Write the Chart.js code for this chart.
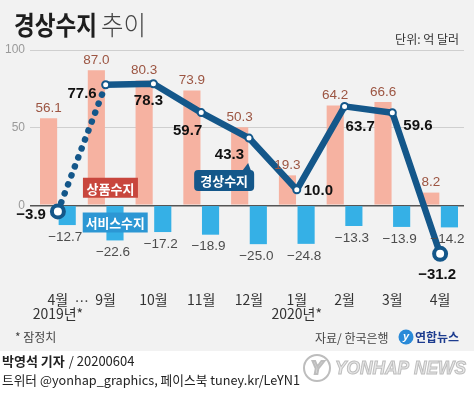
<!DOCTYPE html>
<html>
<head>
<meta charset="utf-8">
<script src="https://cdn.jsdelivr.net/npm/chart.js@4.4.1/dist/chart.umd.min.js"></script>
<style>
  html, body { margin: 0; padding: 0; background: #fff; }
  canvas { display: block; }
</style>
</head>
<body>
<canvas id="chart" width="474" height="399"></canvas>
<script>
// data (억 달러)
const months = [["4월", "2019년*"], "9월", "10월", "11월", "12월", ["1월", "2020년*"], "2월", "3월", "4월"];
const goods = [56.1, 87.0, 80.3, 73.9, 50.3, 19.3, 64.2, 66.6, 8.2];
const services = [-12.7, -22.6, -17.2, -18.9, -25.0, -24.8, -13.3, -13.9, -14.2];
const current = [-3.9, 77.6, 78.3, 59.7, 43.3, 10.0, 63.7, 59.6, -31.2];
const yTicks = [0, 50, 100];

const KR = '"Noto Sans CJK KR", sans-serif';
const NUM = '"Liberation Sans", Arial, sans-serif';
const navy = "#14578a";

// offsets of the 경상수지 value labels from their points: dx, dy, align
const lineLabelPos = [
    [-12, 3, "right"], [-9, 9, "right"], [-5, 17, "center"], [1, 18, "right"], [-5, 17, "right"],
    [7, 1, "left"], [1, 20, "left"], [11, 13, "left"], [-3, 21, "center"]
];

const fmt = v => (v < 0 ? "\u2212" + Math.abs(v).toFixed(1) : v.toFixed(1));

// page background, titles, footer
const frame = {
    id: "frame",
    beforeDraw(chart) {
        const c = chart.ctx;
        c.save();
        c.fillStyle = "#fff";
        c.fillRect(0, 0, 474, 399);
        c.fillStyle = "#f2f2f2";
        c.fillRect(0, 0, 474, 351);
        c.restore();
    },
    afterDraw(chart) {
        const c = chart.ctx;
        const x = chart.scales.x;
        c.save();
        c.textBaseline = "middle";

        // title
        c.fillStyle = "#1e1e1e";
        c.font = "bold 26px " + KR;
        c.fillText("경상수지", 14, 25, 83);
        c.fillStyle = "#444";
        c.font = "300 26px " + KR;
        c.fillText("추이", 101, 25, 45);

        c.fillStyle = "#333";
        c.font = "12px " + KR;
        c.textAlign = "right";
        c.fillText("단위: 억 달러", 459, 39);

        // gap marker between 4월 and 9월
        c.textAlign = "center";
        c.font = "14px " + KR;
        c.fillText("\u2026", x.getPixelForValue(0.5), 301);

        // footnote and source
        c.textAlign = "left";
        c.fillStyle = "#444";
        c.font = "12px " + KR;
        c.fillText("* 잠정치", 15, 337);
        c.fillText("자료/ 한국은행", 315, 338);

        // 연합뉴스 logo
        c.fillStyle = "#2a8ad8";
        c.beginPath();
        c.arc(406, 337, 7.5, 0, Math.PI * 2);
        c.fill();
        c.fillStyle = "#fff";
        c.font = "italic bold 11px " + NUM;
        c.textAlign = "center";
        c.fillText("y", 406, 337);
        c.textAlign = "left";
        c.fillStyle = "#1d3c8f";
        c.font = "bold 12px " + KR;
        c.fillText("연합뉴스", 415, 337);

        // footer
        c.fillStyle = "#222";
        c.font = "bold 13px " + KR;
        c.fillText("박영석 기자", 2, 361);
        const bw = c.measureText("박영석 기자").width;
        c.font = "13px " + KR;
        c.fillText("/ 20200604", 2 + bw + 4, 361);
        c.fillText("트위터 @yonhap_graphics, 페이스북 tuney.kr/LeYN1", 2, 380, 298);

        // watermark
        c.strokeStyle = "#bdbdbd";
        c.lineWidth = 2;
        c.beginPath();
        c.arc(317, 368, 13, 0, Math.PI * 2);
        c.stroke();
        c.font = "italic bold 18px " + NUM;
        c.textAlign = "center";
        c.fillStyle = "#e8e8e8";
        c.fillText("Y", 317, 369);
        c.strokeText("Y", 317, 369);
        c.textAlign = "left";
        c.lineWidth = 1;
        c.fillText("YONHAP NEWS", 335, 369, 131);
        c.strokeText("YONHAP NEWS", 335, 369, 131);
        c.restore();
    }
};

// value labels and series tags
const labels = {
    id: "labels",
    afterDatasetsDraw(chart) {
        const c = chart.ctx;
        const xs = chart.scales.x, ys = chart.scales.y;
        c.save();
        c.textBaseline = "middle";

        // series tags
        const tags = [
            { text: "상품수지", i: 1.1, v: 11.3, w: 55, h: 20, color: "#c8463d", r: 0 },
            { text: "서비스수지", i: 1.2, v: -11, w: 65, h: 20, color: "#2c97d4", r: 0 },
            { text: "경상수지", i: 3.48, v: 16, w: 60, h: 21, color: navy, r: 4 }
        ];
        tags.forEach(t => {
            const cx = xs.getPixelForValue(t.i), cy = ys.getPixelForValue(t.v);
            c.fillStyle = t.color;
            c.beginPath();
            c.roundRect(cx - t.w / 2, cy - t.h / 2, t.w, t.h, t.r);
            c.fill();
            if (t.r) {
                // little pointer toward the line
                c.beginPath();
                c.moveTo(cx + t.w / 2 - 12, cy - t.h / 2 + 1);
                c.lineTo(cx + t.w / 2 - 6, cy - t.h / 2 - 7);
                c.lineTo(cx + t.w / 2 - 3, cy - t.h / 2 + 1);
                c.fill();
            }
            c.fillStyle = "#fff";
            c.font = "bold 13px " + KR;
            c.textAlign = "center";
            c.fillText(t.text, cx, cy + 1, t.w - 6);
        });

        const goodsMeta = chart.getDatasetMeta(1);
        const servMeta = chart.getDatasetMeta(2);
        const lineMeta = chart.getDatasetMeta(0);

        c.font = "13.5px " + NUM;
        c.textAlign = "center";
        c.fillStyle = "#9c5542";
        goodsMeta.data.forEach((b, i) => c.fillText(fmt(goods[i]), b.x, b.y - 10));
        c.fillStyle = "#4d4d4d";
        servMeta.data.forEach((b, i) => c.fillText(fmt(services[i]), b.x - 2, b.y + 12));

        c.font = "bold 15px " + NUM;
        c.fillStyle = "#111";
        lineMeta.data.forEach((p, i) => {
            const [dx, dy, al] = lineLabelPos[i];
            c.textAlign = al;
            c.fillText(fmt(current[i]), p.x + dx, p.y + dy);
        });
        c.restore();
    }
};

const ctx = document.getElementById("chart").getContext("2d");

new Chart(ctx, {
    type: "bar",
    data: {
        labels: months,
        datasets: [
            {
                type: "line",
                label: "경상수지",
                data: current,
                order: 0,
                borderColor: navy,
                borderWidth: 6.5,
                borderJoinStyle: "round",
                borderCapStyle: "round",
                tension: 0,
                pointRadius: c => (c.dataIndex === 0 || c.dataIndex === current.length - 1 ? 6 : 3.5),
                pointBorderWidth: c => (c.dataIndex === 0 || c.dataIndex === current.length - 1 ? 4 : 2),
                pointBackgroundColor: "#fff",
                pointBorderColor: navy,
                segment: {
                    borderDash: c => (c.p0DataIndex === 0 ? [0.1, 9.5] : undefined)
                }
            },
            {
                label: "상품수지",
                data: goods,
                order: 1,
                backgroundColor: "#f6b2a1",
                categoryPercentage: 0.78,
                barPercentage: 0.92
            },
            {
                label: "서비스수지",
                data: services,
                order: 1,
                backgroundColor: "#35b0e6",
                categoryPercentage: 0.78,
                barPercentage: 0.92
            }
        ]
    },
    options: {
        responsive: false,
        animation: false,
        devicePixelRatio: 1,
        layout: { padding: { top: 50, right: 7, left: 0, bottom: 0 } },
        plugins: {
            legend: { display: false },
            tooltip: { enabled: false }
        },
        scales: {
            x: {
                grid: { display: false },
                border: { display: false },
                ticks: {
                    color: "#333",
                    font: { size: 14, family: KR, lineHeight: 1.0 },
                    padding: 2,
                    maxRotation: 0,
                    autoSkip: false
                },
                afterFit: s => { s.height = 116; }
            },
            y: {
                min: -50,
                max: 100,
                afterBuildTicks: s => { s.ticks = [-50].concat(yTicks).map(v => ({ value: v })); },
                border: { display: false },
                grid: {
                    color: c => (c.tick.value === 0 ? "#555" : c.tick.value < 0 ? "rgba(0,0,0,0)" : "#cfcfcf"),
                    lineWidth: c => (c.tick.value === 0 ? 1.5 : 1),
                    tickLength: 4
                },
                ticks: {
                    color: "#9a9a9a",
                    font: { size: 12, family: NUM },
                    padding: 5,
                    callback: v => (v < 0 ? "" : v)
                },
                afterFit: s => { s.width = 34; }
            }
        }
    },
    plugins: [frame, labels]
});
</script>
</body>
</html>
